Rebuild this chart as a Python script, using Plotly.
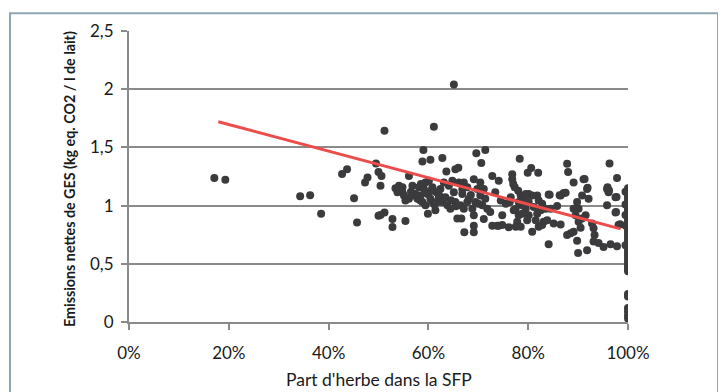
import plotly.graph_objects as go

# ---- data ----
part_herbe = [
    0.171, 0.193, 0.343, 0.363, 0.385, 0.427, 0.437, 0.451, 0.457,
    0.651, 0.512, 0.611, 0.590, 0.588, 0.604, 0.628, 0.696, 0.714, 0.706,
    0.495, 0.500, 0.506, 0.504, 0.473, 0.478, 0.500, 0.512, 0.504, 0.528,
    0.528, 0.554, 0.561, 0.534, 0.541, 0.548, 0.551, 0.554, 0.561, 0.568,
    0.538, 0.578, 0.584, 0.591, 0.594, 0.601, 0.598, 0.608, 0.604, 0.588,
    0.594, 0.608, 0.599, 0.614, 0.621, 0.624, 0.616, 0.636, 0.654, 0.660,
    0.631, 0.641, 0.648, 0.661, 0.671, 0.678, 0.691, 0.704, 0.698, 0.711,
    0.628, 0.638, 0.644, 0.654, 0.664, 0.671, 0.678, 0.681, 0.688, 0.691,
    0.694, 0.704, 0.714, 0.708, 0.718, 0.724, 0.728, 0.734, 0.658, 0.666,
    0.672, 0.691, 0.691, 0.711, 0.728, 0.738, 0.568, 0.574, 0.584, 0.618,
    0.634, 0.668, 0.651, 0.581, 0.548,
    0.783, 0.806, 0.799, 0.820, 0.878, 0.880, 0.963, 0.978, 0.768, 0.768,
    0.770, 0.773, 0.780, 0.741, 0.745, 0.755, 0.765, 0.763, 0.785, 0.791,
    0.801, 0.808, 0.801, 0.818, 0.821, 0.811, 0.795, 0.788, 0.781, 0.775,
    0.841, 0.845, 0.858, 0.865, 0.871, 0.828, 0.825, 0.831, 0.838, 0.828,
    0.821, 0.815, 0.808, 0.818, 0.801, 0.798, 0.788, 0.781, 0.778, 0.775,
    0.771, 0.761, 0.748, 0.748, 0.741, 0.785, 0.851, 0.865, 0.841, 0.878,
    0.885, 0.891, 0.898, 0.900, 0.918, 0.891, 0.898, 0.901, 0.908, 0.911,
    0.918, 0.921, 0.915, 0.908, 0.901, 0.895, 0.891, 0.905, 0.928, 0.931,
    0.933, 0.931, 0.941, 0.951, 0.965, 0.978, 0.958, 0.961, 0.975, 0.958,
    0.975, 0.981, 0.795, 0.835, 0.843, 0.863, 0.875, 0.913, 0.919, 0.959,
    0.962, 0.977, 0.976, 0.984,
    0.585, 0.605, 0.622, 0.645, 0.668, 0.685, 0.700, 0.565, 0.612, 0.655,
    1.0, 1.0, 1.0, 1.0, 1.0, 1.0, 1.0, 1.0, 1.0, 1.0, 1.0, 1.0, 1.0, 1.0,
    1.0, 1.0, 1.0, 1.0, 1.0, 1.0, 1.0, 1.0, 1.0, 1.0, 1.0, 1.0, 1.0, 1.0,
    1.0, 1.0, 0.995, 0.995, 0.995, 0.995, 0.995,
    1.0, 1.0, 1.0, 1.0, 1.0, 1.0,
]
emissions = [
    1.238, 1.222, 1.081, 1.089, 0.931, 1.272, 1.312, 1.064, 0.855,
    2.041, 1.644, 1.678, 1.478, 1.379, 1.393, 1.410, 1.450, 1.478, 1.365,
    1.362, 1.289, 1.255, 1.171, 1.199, 1.241, 0.912, 0.940, 0.920, 0.884,
    0.816, 0.867, 1.255, 1.148, 1.171, 1.114, 1.086, 1.044, 1.058, 1.171,
    1.114, 1.058, 1.086, 1.143, 1.199, 1.213, 1.100, 1.157, 1.058, 1.030,
    1.002, 1.030, 0.931, 0.960, 1.072, 1.143, 1.114, 1.292, 1.312, 1.326,
    1.199, 1.171, 1.213, 1.199, 1.199, 1.157, 1.227, 1.199, 1.143, 1.143,
    1.030, 1.002, 0.974, 1.030, 1.002, 0.974, 1.030, 1.058, 0.974, 0.917,
    1.030, 1.086, 1.058, 1.002, 0.974, 0.946, 1.255, 1.114, 0.889, 0.889,
    0.771, 0.827, 0.771, 0.884, 0.827, 0.827, 1.086, 1.100, 1.044, 1.030,
    1.072, 1.100, 1.114, 1.157, 1.157,
    1.402, 1.323, 1.283, 1.283, 1.360, 1.289, 1.362, 1.238, 1.269, 1.227,
    1.185, 1.157, 1.128, 1.213, 1.044, 1.016, 1.072, 1.030, 1.086, 1.058,
    1.100, 1.086, 1.030, 1.086, 1.044, 0.988, 0.974, 1.002, 1.030, 0.974,
    1.095, 0.974, 0.996, 1.086, 1.109, 1.016, 0.960, 0.861, 0.875, 0.833,
    0.819, 0.875, 0.776, 0.931, 0.917, 0.875, 0.931, 0.917, 0.861, 0.819,
    0.960, 0.813, 0.917, 0.833, 0.827, 0.819, 0.847, 0.838, 0.669, 0.748,
    0.762, 0.776, 0.698, 0.593, 0.616, 1.199, 1.030, 0.974, 1.086, 1.227,
    1.143, 1.058, 0.917, 0.889, 0.861, 0.917, 0.974, 0.810, 0.847, 0.805,
    0.748, 0.692, 0.678, 0.644, 0.669, 0.650, 1.143, 1.114, 1.072, 1.002,
    0.940, 0.833, 1.100, 0.974, 1.093, 1.088, 1.110, 1.229, 1.153, 1.158,
    1.130, 1.073, 0.946, 0.839,
    1.185, 1.125, 1.085, 1.045, 1.140, 1.090, 1.015, 1.120, 1.010, 0.995,
    1.150, 1.125, 1.100, 1.075, 1.050, 1.025, 1.000, 0.975, 0.950, 0.925,
    0.900, 0.875, 0.850, 0.825, 0.800, 0.775, 0.750, 0.725, 0.700, 0.675,
    0.650, 0.625, 0.600, 0.575, 0.550, 0.525, 0.500, 0.475, 0.455, 0.435,
    1.120, 1.010, 0.920, 0.830, 0.660,
    0.240, 0.220, 0.120, 0.090, 0.055, 0.030,
]

trend_x = [0.179, 0.985]
trend_y = [1.720, 0.800]

y_tickvals = [0, 0.5, 1, 1.5, 2, 2.5]
y_ticktext = ["0", "0,5", "1", "1,5", "2", "2,5"]
x_tickvals = [0, 0.2, 0.4, 0.6, 0.8, 1.0]
x_ticktext = ["0%", "20%", "40%", "60%", "80%", "100%"]

x_title = "Part d'herbe dans la SFP"
y_title = "Emissions nettes de GES (kg eq. CO2 / l de lait)"

FONT = "Lato, Calibri, Arial, sans-serif"
GRID = "#8a8a8a"
TXT = "#1a1a1a"

fig = go.Figure()
fig.add_trace(go.Scatter(
    x=part_herbe, y=emissions, mode="markers",
    marker=dict(size=8, color="#3b3b3e", line=dict(width=0)),
    hoverinfo="x+y", showlegend=False,
))
fig.add_trace(go.Scatter(
    x=trend_x, y=trend_y, mode="lines",
    line=dict(color="#ee4b4b", width=3),
    showlegend=False, hoverinfo="skip",
))

# the page body has an 8px margin: figure sized/margined to compensate
fig.update_layout(
    width=718, height=384,
    margin=dict(l=121, r=98, t=18, b=70, pad=0),
    paper_bgcolor="white", plot_bgcolor="white",
    font=dict(family=FONT, size=17, color=TXT),
    xaxis=dict(
        range=[0, 1.0], tickvals=x_tickvals, ticktext=x_ticktext,
        showgrid=False, zeroline=False,
        showline=True, linecolor=GRID, linewidth=2,
        ticks="outside", ticklen=6, tickwidth=2, tickcolor=GRID,
        ticklabelstandoff=9, tickfont=dict(size=17),
        fixedrange=True,
    ),
    yaxis=dict(
        range=[0, 2.5], tickvals=y_tickvals, ticktext=y_ticktext,
        showgrid=True, gridcolor=GRID, gridwidth=2,
        zeroline=False,
        showline=True, linecolor=GRID, linewidth=2,
        ticks="outside", ticklen=6, tickwidth=2, tickcolor=GRID,
        ticklabelstandoff=4, tickfont=dict(size=17),
        fixedrange=True,
    ),
    annotations=[
        dict(text=x_title, xref="paper", yref="paper", x=0.5, y=-0.198,
             xanchor="center", yanchor="middle", showarrow=False,
             font=dict(family=FONT, size=17.5, color=TXT)),
        dict(text="<b>" + y_title + "</b>", xref="paper", yref="paper",
             x=-0.119, y=0.49, xanchor="center", yanchor="middle",
             textangle=-90, showarrow=False,
             font=dict(family=FONT, size=14.3, color=TXT)),
    ],
    shapes=[
        dict(type="rect", xref="paper", yref="paper",
             x0=-0.2385, x1=1.1804, y0=-0.30, y1=1.0608,
             line=dict(color="#8fa7b4", width=2), fillcolor="rgba(0,0,0,0)",
             layer="below"),
    ],
)

fig.write_html("out.html")
